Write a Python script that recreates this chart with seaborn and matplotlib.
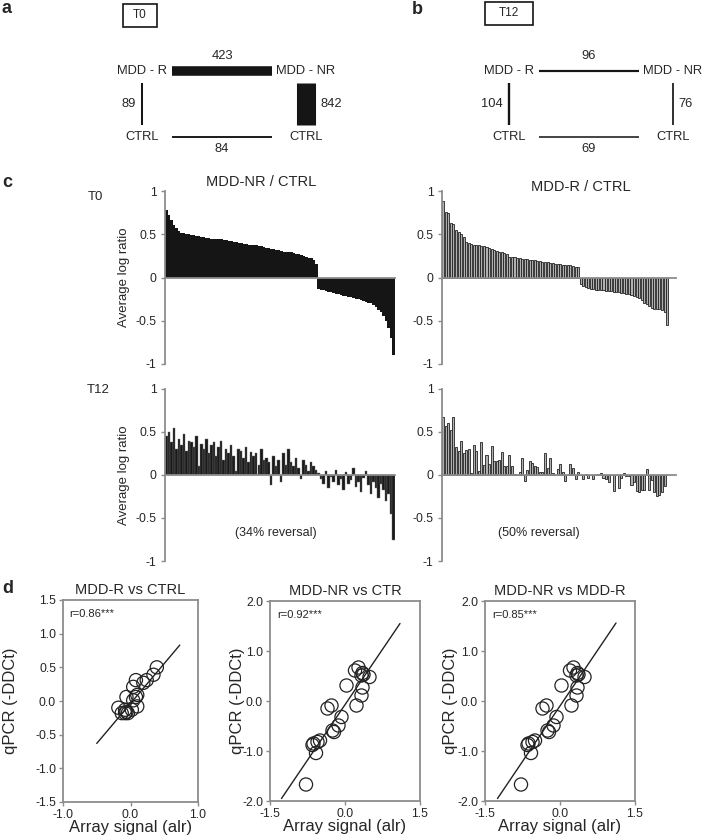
import numpy as np
import pandas as pd
import matplotlib
matplotlib.use('Agg')
import matplotlib.pyplot as plt
from matplotlib.patches import Rectangle
import seaborn as sns

sns.set_theme(style='ticks')
plt.rcParams['font.family'] = ['Liberation Sans', 'DejaVu Sans']
plt.rcParams['axes.unicode_minus'] = False

W, H = 703, 840
GREY = '#8c8c8c'
INK = '#151515'

# ---------------- data ----------------
# panels a/b: number of genes per comparison (top, left, right, bottom edge)
node_top = ['MDD - R', 'MDD - NR']
node_bottom = ['CTRL', 'CTRL']
t0_genes = [423, 89, 842, 84]
t12_genes = [96, 104, 76, 69]

# panel c: average log ratios, genes ordered by their T0 value
nr_t0 = [0.78, 0.72, 0.66, 0.61, 0.57, 0.54, 0.52, 0.51, 0.50, 0.50,
         0.49, 0.49, 0.48, 0.48, 0.47, 0.47, 0.46, 0.46, 0.45, 0.45,
         0.44, 0.44, 0.44, 0.43, 0.43, 0.42, 0.42, 0.41, 0.41, 0.40,
         0.40, 0.39, 0.39, 0.38, 0.38, 0.37, 0.37, 0.36, 0.36, 0.35,
         0.34, 0.34, 0.33, 0.33, 0.32, 0.32, 0.31, 0.30, 0.30, 0.29,
         0.29, 0.28, 0.27, 0.27, 0.26, 0.25, 0.24, 0.23, 0.22, 0.20,
         0.16,
         -0.13, -0.14, -0.15, -0.16, -0.17, -0.17, -0.18, -0.19, -0.19, -0.20,
         -0.21, -0.21, -0.22, -0.23, -0.24, -0.25, -0.25, -0.26, -0.27, -0.28,
         -0.29, -0.30, -0.32, -0.34, -0.37, -0.40, -0.44, -0.50, -0.58, -0.70,
         -0.90]
nr_t12 = [0.45, 0.50, 0.38, 0.55, 0.30, 0.42, 0.35, 0.48, 0.28, 0.40,
          0.38, 0.33, 0.45, 0.10, 0.36, 0.30, 0.42, 0.25, 0.35, 0.38,
          0.22, 0.32, 0.40, 0.18, 0.30, 0.26, 0.35, 0.22, 0.05, 0.30,
          0.28, 0.20, 0.33, 0.15, 0.27, 0.22, 0.25, 0.12, 0.30, 0.18,
          0.20, 0.15, -0.12, 0.22, 0.10, 0.18, -0.08, 0.25, 0.12, 0.30,
          0.15, 0.10, 0.20, 0.08, -0.05, 0.18, 0.12, 0.05, 0.15, 0.10,
          0.06, 0.02, -0.05, -0.10, 0.05, -0.15, -0.02, -0.08, 0.06, -0.12,
          -0.05, -0.18, 0.03, -0.10, -0.06, 0.08, -0.14, -0.08, -0.20, -0.04,
          0.05, -0.12, -0.22, -0.08, -0.15, -0.27, -0.10, -0.18, -0.30, -0.22,
          -0.45, -0.75]
r_t0 = [0.88, 0.76, 0.75, 0.63, 0.62, 0.55, 0.53, 0.50, 0.47, 0.41,
        0.40, 0.39, 0.38, 0.38, 0.37, 0.36, 0.36, 0.35, 0.34, 0.33,
        0.32, 0.31, 0.29, 0.29, 0.28, 0.27, 0.24, 0.24, 0.24, 0.23,
        0.22, 0.21, 0.21, 0.21, 0.20, 0.20, 0.20, 0.19, 0.19, 0.18,
        0.18, 0.18, 0.17, 0.17, 0.16, 0.16, 0.16, 0.15, 0.15, 0.14,
        0.14, 0.13, 0.12, 0.12,
        -0.08, -0.10, -0.11, -0.12, -0.13, -0.13, -0.14, -0.14, -0.15, -0.15,
        -0.16, -0.16, -0.16, -0.17, -0.17, -0.17, -0.18, -0.18, -0.19, -0.19,
        -0.20, -0.21, -0.22, -0.24, -0.26, -0.29, -0.31, -0.33, -0.35, -0.36,
        -0.36, -0.36, -0.37, -0.40, -0.55]
r_t12 = [0.68, 0.57, 0.60, 0.52, 0.68, 0.33, 0.28, 0.39, 0.25, 0.29,
         0.30, 0.02, 0.35, 0.28, 0.05, 0.38, 0.12, 0.23, 0.13, 0.34,
         0.16, 0.16, 0.17, 0.27, 0.10, 0.11, 0.23, 0.10, 0.01, 0.00,
         0.03, 0.20, -0.07, 0.06, 0.16, 0.14, 0.11, 0.09, 0.04, 0.03,
         0.26, 0.08, 0.20, 0.02, 0.00, 0.07, 0.13, 0.03, -0.07, 0.00,
         0.13, 0.08, -0.05, 0.03, 0.00, -0.05, 0.01, -0.04, 0.00, -0.05,
         0.00, 0.01, 0.02, -0.03, -0.05, -0.08, 0.00, -0.19, 0.00, -0.15,
         -0.03, 0.02, -0.01, -0.01, -0.12, -0.08, -0.19, -0.20, -0.17, -0.17,
         0.07, -0.17, -0.06, -0.20, -0.24, -0.23, -0.20, -0.13, 0.00]
ratio_ticks = [-1, -0.5, 0, 0.5, 1]
ratio_ticklabels = ['-1', '-0.5', '0', '0.5', '1']

# panel d: qPCR vs array
r_ctrl_x = [-0.18, -0.08, -0.06, -0.04, -0.08, -0.13, 0.02, 0.04, 0.08, 0.04,
            0.08, 0.10, 0.10, 0.24, 0.19, 0.34, 0.39, -0.06]
r_ctrl_y = [-0.10, -0.13, -0.16, -0.18, -0.18, -0.18, -0.13, 0.01, 0.06, 0.21,
            0.31, 0.09, -0.08, 0.31, 0.27, 0.39, 0.50, 0.06]
r_ctrl_fit_x = [-0.50, 0.73]
r_ctrl_fit_y = [-0.63, 0.83]

nr_ctr_x = [-0.78, -0.63, -0.55, -0.50, -0.58, -0.65, -0.35, -0.27, -0.25, -0.22,
            -0.13, -0.07, 0.03, 0.20, 0.27, 0.23, 0.33, 0.35, 0.37, 0.49, 0.33, 0.35]
nr_ctr_y = [-1.67, -0.85, -0.82, -0.79, -1.04, -0.88, -0.15, -0.09, -0.59, -0.62,
            -0.49, -0.32, 0.31, 0.61, 0.67, -0.09, 0.51, 0.56, 0.53, 0.48, 0.11, 0.27]
nr_ctr_fit_x = [-1.27, 1.10]
nr_ctr_fit_y = [-1.95, 1.55]

nr_r_x = [-0.78, -0.63, -0.55, -0.50, -0.58, -0.65, -0.35, -0.27, -0.25, -0.22,
          -0.13, -0.07, 0.03, 0.20, 0.27, 0.23, 0.33, 0.35, 0.37, 0.49, 0.33, 0.35]
nr_r_y = [-1.67, -0.85, -0.82, -0.79, -1.04, -0.88, -0.15, -0.09, -0.59, -0.62,
          -0.49, -0.32, 0.31, 0.61, 0.67, -0.09, 0.51, 0.56, 0.53, 0.48, 0.11, 0.27]
nr_r_fit_x = [-1.25, 1.12]
nr_r_fit_y = [-1.95, 1.56]


# ---------------- helpers ----------------
def px_axes(fig, x0, y0, x1, y1):
    return fig.add_axes([x0 / W, 1 - y1 / H, (x1 - x0) / W, (y1 - y0) / H])


def draw_network(ax, xl, xr, genes, tag, box):
    top, left, right, bottom = genes
    k = 0.0163
    y_top, y_bot = 71, 137
    h0, h1 = xl + 30, xr - 34
    mid = (h0 + h1) / 2
    kw = dict(color=INK, solid_capstyle='butt')
    ax.plot([h0, h1], [y_top, y_top], lw=top * k, **kw)
    ax.plot([h0, h1], [y_bot, y_bot], lw=bottom * k, **kw)
    ax.plot([xl, xl], [83, 125], lw=left * k, **kw)
    ax.plot([xr, xr], [83, 125], lw=right * k, **kw)
    fs = 9.3
    ax.text(xl, y_top, node_top[0], ha='center', va='center', fontsize=fs)
    ax.text(xr, y_top, node_top[1], ha='center', va='center', fontsize=fs)
    ax.text(xl, y_bot, node_bottom[0], ha='center', va='center', fontsize=fs)
    ax.text(xr, y_bot, node_bottom[1], ha='center', va='center', fontsize=fs)
    ax.text(mid, 56, str(top), ha='center', va='center', fontsize=fs)
    ax.text(mid, 149, str(bottom), ha='center', va='center', fontsize=fs)
    ax.text(xl - left * k * 100 / 72 / 2 - 5, 104, str(left), ha='right', va='center', fontsize=fs)
    ax.text(xr + right * k * 100 / 72 / 2 + 5, 104, str(right), ha='left', va='center', fontsize=fs)
    bx, by, bw, bh = box
    ax.add_patch(Rectangle((bx, by), bw, bh, fill=False, ec=INK, lw=1.2))
    ax.text(bx + bw / 2, by + bh / 2, tag, ha='center', va='center', fontsize=8.5)


def ratio_panel(ax, values, face, edge, lw, width, label):
    df = pd.DataFrame({'gene': np.arange(len(values)), 'ratio': values})
    sns.barplot(data=df, x='gene', y='ratio', ax=ax, native_scale=True,
                color=face, edgecolor=edge, linewidth=lw, width=width,
                saturation=1, errorbar=None)
    ax.set_xlim(-0.5, 91.5)
    ax.set_ylim(-1, 1)
    ax.set_yticks(ratio_ticks)
    ax.set_yticklabels(ratio_ticklabels)
    for s in ['top', 'right']:
        ax.spines[s].set_visible(False)
    ax.spines['bottom'].set_position(('data', 0))
    for s in ['left', 'bottom']:
        ax.spines[s].set_color(GREY)
        ax.spines[s].set_linewidth(1.3)
    ax.tick_params(axis='x', bottom=False, labelbottom=False)
    ax.tick_params(axis='y', length=3, width=1, color=GREY, labelsize=8.7, pad=3)
    ax.set_xlabel('')
    if label:
        ax.set_ylabel('Average log ratio', fontsize=9.5)
        ax.yaxis.set_label_coords(-0.15, 0.5)
    else:
        ax.set_ylabel('')
    ax.patch.set_visible(False)


def scatter_panel(ax, x, y, fx, fy, title, rtext, lim_x, lim_y, xt, yt, ylab_x):
    sns.scatterplot(x=x, y=y, ax=ax, s=90, color='none', edgecolor='#222',
                    linewidth=0.9, legend=False, zorder=3)
    sns.lineplot(x=fx, y=fy, ax=ax, color='#222', linewidth=1.0)
    ax.set_xlim(*lim_x)
    ax.set_ylim(*lim_y)
    ax.set_xticks(xt)
    ax.set_yticks(yt)
    ax.xaxis.set_major_formatter('{x:.1f}')
    ax.yaxis.set_major_formatter('{x:.1f}')
    for s in ax.spines.values():
        s.set_color(GREY)
        s.set_linewidth(1.3)
    ax.tick_params(length=3, width=1, color=GREY, labelsize=8.7, pad=2)
    ax.set_title(title, fontsize=10.5, pad=4)
    ax.text(0.05, 0.955, rtext, transform=ax.transAxes, ha='left', va='top', fontsize=8)
    ax.set_xlabel('Array signal (alr)', fontsize=12)
    ax.set_ylabel('qPCR (-DDCt)', fontsize=12)
    ax.xaxis.set_label_coords(0.5, -0.09)
    ax.yaxis.set_label_coords(ylab_x, 0.5)


# ---------------- figure ----------------
fig = plt.figure(figsize=(W / 100, H / 100), dpi=100)

over = fig.add_axes([0, 0, 1, 1])
over.set_xlim(0, W)
over.set_ylim(H, 0)
over.axis('off')

draw_network(over, 142, 306, t0_genes, 'T0', (123, 4, 34, 23))
draw_network(over, 509, 673, t12_genes, 'T12', (485, 2, 48, 23))

for lab, x, y in [('a', 2, 13), ('b', 412, 14), ('c', 2, 187), ('d', 2, 593)]:
    over.text(x, y, lab, fontsize=13, fontweight='bold', ha='left', va='baseline')
over.text(88, 200, 'T0', fontsize=9.5, ha='left', va='baseline')
over.text(87, 393, 'T12', fontsize=9.5, ha='left', va='baseline')

# panel c
ax = px_axes(fig, 165, 191, 395, 364)
ratio_panel(ax, nr_t0, INK, 'none', 0, 1.15, True)
ax.text(0.42, 1.05, 'MDD-NR / CTRL', transform=ax.transAxes, ha='center', va='center', fontsize=10.5)

ax = px_axes(fig, 442, 191, 676, 364)
ratio_panel(ax, r_t0, '#b0b0b0', '#222222', 0.6, 0.8, False)
ax.text(0.594, 1.025, 'MDD-R / CTRL', transform=ax.transAxes, ha='center', va='center', fontsize=10.5)

ax = px_axes(fig, 165, 389, 395, 561)
ratio_panel(ax, nr_t12, '#1a1a1a', '#6e6e6e', 0.3, 1.0, True)
ax.text(0.483, 0.165, '(34% reversal)', transform=ax.transAxes, ha='center', va='center', fontsize=9)

ax = px_axes(fig, 442, 389, 676, 561)
ratio_panel(ax, r_t12, '#b0b0b0', '#222222', 0.6, 0.8, False)
ax.text(0.415, 0.165, '(50% reversal)', transform=ax.transAxes, ha='center', va='center', fontsize=9)

# panel d
ax = px_axes(fig, 63, 600, 198, 802)
scatter_panel(ax, r_ctrl_x, r_ctrl_y, r_ctrl_fit_x, r_ctrl_fit_y, 'MDD-R vs CTRL', 'r=0.86***',
              (-1, 1), (-1.5, 1.5), [-1, 0, 1], [-1.5, -1, -0.5, 0, 0.5, 1, 1.5], -0.33)

ax = px_axes(fig, 270, 601, 420, 801)
scatter_panel(ax, nr_ctr_x, nr_ctr_y, nr_ctr_fit_x, nr_ctr_fit_y, 'MDD-NR vs CTR', 'r=0.92***',
              (-1.5, 1.5), (-2, 2), [-1.5, 0, 1.5], [-2, -1, 0, 1, 2], -0.167)

ax = px_axes(fig, 485, 601, 635, 801)
scatter_panel(ax, nr_r_x, nr_r_y, nr_r_fit_x, nr_r_fit_y, 'MDD-NR vs MDD-R', 'r=0.85***',
              (-1.5, 1.5), (-2, 2), [-1.5, 0, 1.5], [-2, -1, 0, 1, 2], -0.18)

fig.savefig('out.png', dpi=100)
